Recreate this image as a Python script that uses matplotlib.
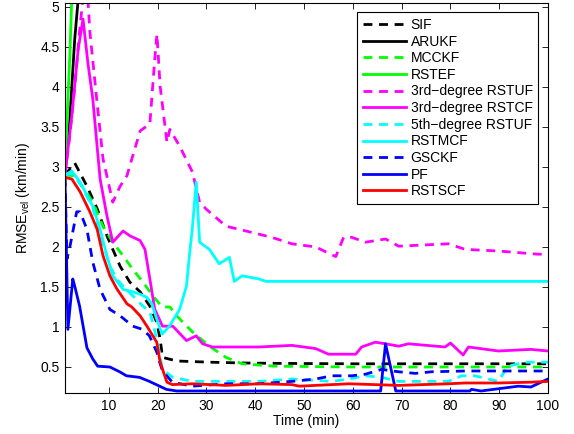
import numpy as np
import matplotlib
matplotlib.use("Agg")
from matplotlib import pyplot as plt

plt.rcParams['font.family'] = ['Liberation Sans', 'DejaVu Sans']
plt.rcParams['mathtext.fontset'] = 'custom'
plt.rcParams['mathtext.rm'] = 'Liberation Sans'
plt.rcParams['mathtext.default'] = 'regular'

# values (time in min, RMSE in km/min)
sif_t = [1, 3, 5.5, 7.6, 9.6, 10.8, 12.3, 14.3, 16.4, 18.4, 19.8, 20.5, 21, 23.9, 30.6, 37.3, 45, 60, 80, 100]
sif_v = [2.9, 3.05, 2.76, 2.48, 2.14, 1.97, 1.76, 1.56, 1.44, 1.26, 1.06, 0.85, 0.62, 0.575, 0.56, 0.55, 0.545, 0.54, 0.54, 0.54]

arukf_t = [1, 2, 3, 4, 5, 10, 20, 50, 100]
arukf_v = [2.9, 3.6, 4.6, 5.3, 6.5, 9.0, 12.0, 12.0, 12.0]

mcckf_t = [1, 3, 5, 6.7, 8.8, 10.8, 12.9, 14.9, 17, 19, 20.9, 22.5, 23.9, 27.1, 30.6, 34, 37.3, 44, 60, 80, 100]
mcckf_v = [2.9, 2.89, 2.72, 2.56, 2.26, 2.06, 1.89, 1.72, 1.56, 1.39, 1.25, 1.25, 1.14, 0.94, 0.76, 0.62, 0.54, 0.51, 0.5, 0.5, 0.5]

rstef_t = [1, 1.6, 2, 2.5, 3, 5, 100]
rstef_v = [2.9, 3.85, 4.4, 5.3, 7.0, 10.0, 10.0]

rstuf3_t = [1, 2, 3, 4, 5, 5.5, 6.1, 7.5, 8.8, 10.8, 12.3, 13.7, 14.7, 16.4, 18.4, 19.4, 19.85, 20.5, 21.9,
            22.5, 24.5, 27.1, 28.6, 30, 34, 38.1, 43.4, 47.5, 52.4, 56.5, 58.1, 59.8, 62.6, 66.7, 69.4, 79.6,
            83, 89.8, 97.9, 100]
rstuf3_v = [2.9, 3.4, 4.0, 4.7, 5.3, 5.3, 4.69, 3.85, 3.1, 2.56, 2.76, 2.89, 3.1, 3.45, 3.54, 4.35, 4.66, 4.01, 3.31,
            3.47, 3.26, 2.94, 2.56, 2.47, 2.26, 2.2, 2.12, 2.04, 2.0, 1.88, 2.12, 2.12, 2.06, 2.1, 2.01, 2.04,
            1.97, 1.95, 1.91, 1.91]

rstcf3_t = [1, 2.4, 3.7, 4.7, 5.7, 6.7, 8.2, 9.6, 10.8, 12.9, 14.3, 16.4, 17.4, 18.4, 19.4, 21, 23.1, 25.9, 27.9,
            29.2, 31.2, 40.8, 47.5, 52.4, 55, 60.6, 61.8, 64.6, 66.7, 69.4, 71.4, 78.9, 80, 82.6, 83.7, 89.8,
            96.5, 100]
rstcf3_v = [2.9, 3.64, 4.47, 4.85, 4.3, 3.85, 2.85, 2.39, 2.06, 2.2, 2.14, 2.08, 1.97, 1.6, 1.22, 1.01, 1.01, 0.83, 0.89,
            0.79, 0.75, 0.75, 0.77, 0.73, 0.66, 0.66, 0.75, 0.81, 0.79, 0.76, 0.79, 0.75, 0.8, 0.65, 0.75, 0.7,
            0.72, 0.7]

rstuf5_t = [1, 2.4, 4.1, 6.7, 8.2, 10.2, 11.6, 12.9, 14.9, 17, 18.4, 19.8, 21, 23.1, 27.1, 40.8, 47.5, 55.7,
            59.2, 62.6, 65.9, 69.4, 79.6, 82.3, 85, 89.8, 91.8, 95.3, 100]
rstuf5_v = [2.9, 2.92, 2.79, 2.49, 2.15, 1.76, 1.6, 1.51, 1.39, 1.26, 1.19, 0.85, 0.47, 0.37, 0.32, 0.32, 0.35, 0.32,
            0.35, 0.39, 0.37, 0.32, 0.32, 0.39, 0.39, 0.32, 0.51, 0.56, 0.56]

rstmcf_t = [1, 2.4, 4.1, 6.7, 8.2, 9.6, 10.8, 12.9, 14.9, 16.4, 17.8, 18.8, 19.8, 20.9, 22.4, 24.5, 25.9, 26.5,
            27.1, 27.9, 28.6, 30.6, 32.6, 34.7, 35.7, 37.3, 40.8, 42.2, 60, 80, 100]
rstmcf_v = [2.9, 2.95, 2.81, 2.51, 2.22, 1.89, 1.64, 1.47, 1.44, 1.41, 1.37, 1.29, 1.1, 0.91, 1.01, 1.22, 1.51, 1.89,
            2.23, 2.81, 2.06, 1.97, 1.79, 1.87, 1.57, 1.64, 1.6, 1.57, 1.57, 1.57, 1.57]

gsckf_t = [1, 1.4, 2, 3.4, 4.1, 5.5, 6.7, 8.2, 10.2, 12.3, 14.9, 16.9, 18.3, 19.8, 20.4, 21, 23, 27.1, 34, 40.8,
           47.5, 52.4, 55.7, 59.8, 62.6, 65.9, 69.4, 72.8, 76.1, 83, 89.8, 96.5, 100]
gsckf_v = [2.87, 1.85, 2.0, 2.44, 2.44, 2.22, 1.81, 1.47, 1.22, 1.14, 1.01, 0.97, 0.89, 0.69, 0.56, 0.45, 0.31, 0.26,
           0.29, 0.29, 0.32, 0.35, 0.39, 0.39, 0.41, 0.47, 0.44, 0.42, 0.44, 0.45, 0.45, 0.45, 0.45]

pf_t = [1, 1.6, 2.6, 3, 4, 5.5, 6.7, 7.7, 10.2, 12.2, 13.6, 16.3, 18.3, 20.4, 21.8, 23.9, 40, 65.7, 66.7, 68.8,
        84, 84.3, 86.3, 93.9, 96.5, 97.9, 100]
pf_v = [2.87, 0.97, 1.6, 1.51, 1.26, 0.74, 0.6, 0.51, 0.5, 0.44, 0.39, 0.37, 0.32, 0.26, 0.22, 0.2, 0.2, 0.2, 0.79, 0.2,
        0.2, 0.22, 0.2, 0.26, 0.25, 0.29, 0.35]

rstscf_t = [1, 2.4, 4.1, 6.1, 7.6, 8.8, 10.2, 11.6, 13.7, 14.7, 16.4, 17.8, 19.8, 20.5, 21.9, 23, 27.1, 34, 40.8,
            47.5, 49, 59.2, 69.4, 79.6, 83, 89.8, 96.5, 100]
rstscf_v = [2.87, 2.85, 2.69, 2.44, 2.22, 1.89, 1.64, 1.48, 1.29, 1.25, 1.14, 1.01, 0.81, 0.56, 0.31, 0.28, 0.29, 0.27,
            0.29, 0.28, 0.26, 0.29, 0.27, 0.29, 0.3, 0.3, 0.31, 0.32]

series = [
    ("SIF", sif_t, sif_v, 'k', True),
    ("ARUKF", arukf_t, arukf_v, 'k', False),
    ("MCCKF", mcckf_t, mcckf_v, '#00ff00', True),
    ("RSTEF", rstef_t, rstef_v, '#00ff00', False),
    ("3rd\u2212degree RSTUF", rstuf3_t, rstuf3_v, '#ff00ff', True),
    ("3rd\u2212degree RSTCF", rstcf3_t, rstcf3_v, '#ff00ff', False),
    ("5th\u2212degree RSTUF", rstuf5_t, rstuf5_v, '#00ffff', True),
    ("RSTMCF", rstmcf_t, rstmcf_v, '#00ffff', False),
    ("GSCKF", gsckf_t, gsckf_v, '#0000ff', True),
    ("PF", pf_t, pf_v, '#0000ff', False),
    ("RSTSCF", rstscf_t, rstscf_v, '#ff0000', False),
]

fig = plt.figure(figsize=(5.74, 4.34), dpi=100)
ax = fig.add_axes([0.1132, 0.0945, 0.8415, 0.8986])

for name, t, v, col, dashed in series:
    line, = ax.plot(t, v, color=col, lw=2, label=name)
    if dashed:
        line.set_dashes((3.2, 2.4))

ax.set_xlim(1, 100)
ax.set_ylim(0.175, 5.05)
ax.set_xticks(np.arange(10, 101, 10))
ax.set_yticks(np.arange(0.5, 5.01, 0.5))
ax.set_yticklabels(['0.5', '1', '1.5', '2', '2.5', '3', '3.5', '4', '4.5', '5'])
ax.tick_params(direction='in', top=True, right=True, labelsize=10, length=4, width=0.6, pad=4)
for s in ax.spines.values():
    s.set_linewidth(0.8)

ax.set_xlabel('Time (min)', fontsize=10, labelpad=1)
ax.set_ylabel('RMSE$_{vel}$ (km/min)', fontsize=10, labelpad=6)

leg = ax.legend(loc='upper right', bbox_to_anchor=(0.98, 0.976), borderaxespad=0, fontsize=10,
                handlelength=3.1, handletextpad=0.35, labelspacing=0.19, borderpad=0.4,
                fancybox=False, framealpha=1, edgecolor='k')
leg.get_frame().set_linewidth(0.8)

plt.savefig('out.png', dpi=100)
